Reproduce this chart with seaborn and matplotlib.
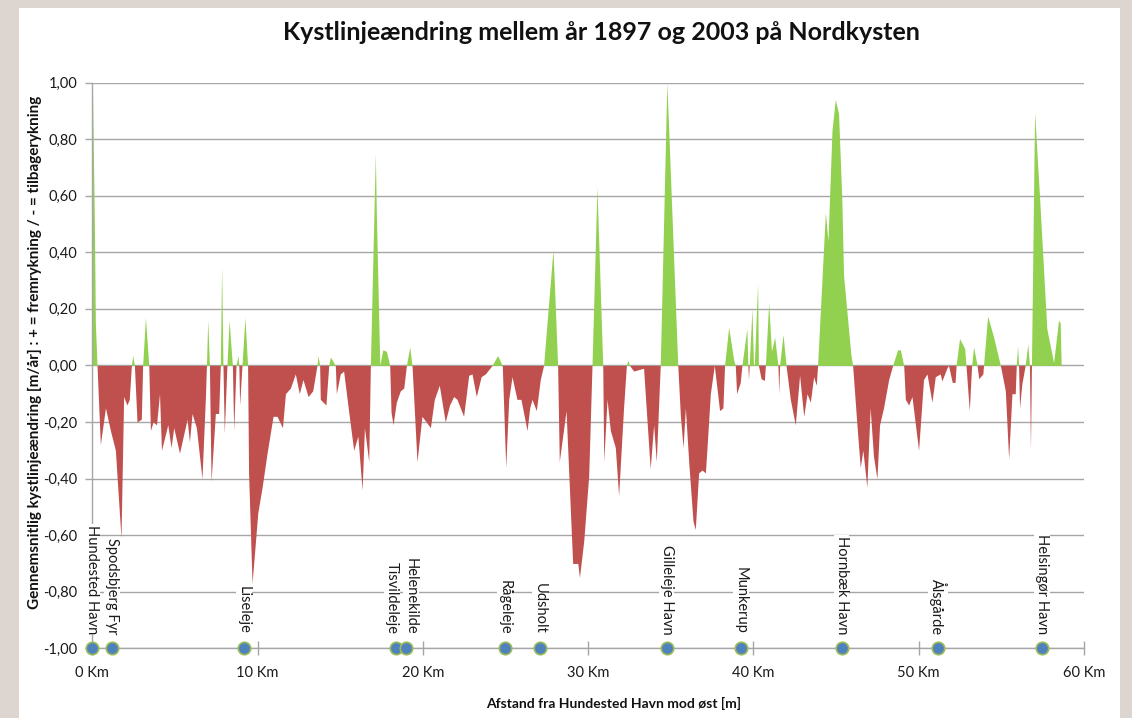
#!/usr/bin/env python3
"""
Kystlinjeændring langs Nordkysten (1897-2003) - area profile with named locations.
"""

import numpy as np
import matplotlib
matplotlib.use('Agg')
import matplotlib.pyplot as plt
from matplotlib.patches import Rectangle
from matplotlib.ticker import FuncFormatter
import seaborn as sns

# ---- data: distance from Hundested Havn [km] and mean change [m/år] ----
km = [
    0.00, 0.12, 0.18, 0.28, 0.48, 0.79, 1.09, 1.39, 1.73, 1.89,
    2.09, 2.23, 2.36, 2.44, 2.54, 2.70, 2.96, 3.04, 3.21, 3.41,
    3.51, 3.67, 3.88, 4.06, 4.18, 4.56, 4.76, 4.92, 5.27, 5.73,
    5.87, 6.03, 6.29, 6.63, 6.84, 6.90, 6.98, 7.08, 7.18, 7.44,
    7.64, 7.74, 7.82, 7.90, 7.98, 8.14, 8.27, 8.47, 8.55, 8.69,
    8.81, 8.86, 8.91, 9.05, 9.23, 9.39, 9.45, 9.66, 10.01, 10.27,
    10.57, 10.93, 11.17, 11.50, 11.68, 11.98, 12.28, 12.52, 12.74, 13.05,
    13.33, 13.59, 13.65, 13.75, 13.79, 14.13, 14.30, 14.40, 14.70, 14.76,
    15.00, 15.20, 15.50, 15.81, 16.06, 16.32, 16.46, 16.72, 16.82, 17.12,
    17.18, 17.39, 17.57, 17.79, 17.99, 18.07, 18.19, 18.39, 18.63, 18.84,
    19.00, 19.20, 19.34, 19.64, 19.94, 20.20, 20.45, 20.69, 20.99, 21.35,
    21.61, 21.86, 22.06, 22.46, 22.77, 22.97, 23.23, 23.52, 23.78, 24.18,
    24.52, 24.80, 25.01, 25.19, 25.39, 25.69, 25.93, 26.30, 26.46, 26.60,
    26.86, 27.10, 27.30, 27.87, 28.15, 28.25, 28.66, 29.06, 29.37, 29.47,
    29.73, 30.03, 30.23, 30.53, 30.88, 30.94, 31.14, 31.34, 31.64, 31.84,
    32.14, 32.31, 32.40, 32.50, 32.75, 33.35, 33.75, 33.96, 34.12, 34.36,
    34.76, 35.42, 35.58, 35.74, 35.88, 36.08, 36.34, 36.48, 36.68, 36.89,
    37.09, 37.19, 37.39, 37.63, 37.95, 38.15, 38.25, 38.50, 38.80, 38.90,
    38.98, 39.20, 39.30, 39.60, 39.66, 39.70, 39.74, 39.91, 40.00, 40.05,
    40.25, 40.30, 40.46, 40.66, 40.72, 40.92, 41.09, 41.28, 41.48, 41.53,
    41.58, 41.79, 41.97, 42.23, 42.53, 42.79, 43.04, 43.24, 43.44, 43.64,
    43.80, 43.88, 44.35, 44.51, 44.75, 44.95, 45.15, 45.35, 45.45, 45.89,
    46.00, 46.26, 46.46, 46.62, 46.86, 47.06, 47.26, 47.47, 47.63, 47.87,
    48.18, 48.42, 48.72, 48.89, 49.09, 49.19, 49.39, 49.59, 49.99, 50.29,
    50.50, 50.80, 51.00, 51.30, 51.40, 51.70, 51.80, 52.03, 52.20, 52.26,
    52.47, 52.78, 52.86, 53.06, 53.20, 53.32, 53.53, 53.63, 53.88, 53.92,
    54.17, 54.53, 54.94, 55.24, 55.44, 55.64, 55.84, 55.90, 55.98, 56.04,
    56.10, 56.24, 56.44, 56.60, 56.70, 56.76, 56.82, 57.01, 57.31, 57.75,
    58.16, 58.46, 58.56, 58.62,
]
change = [
    1.00, 0.50, 0.15, 0.00, -0.28, -0.15, -0.23, -0.30, -0.61, -0.11,
    -0.14, -0.12, 0.00, 0.035, 0.00, -0.20, -0.19, 0.00, 0.17, 0.00,
    -0.23, -0.20, -0.21, -0.10, -0.30, -0.21, -0.29, -0.22, -0.31, -0.19,
    -0.27, -0.17, -0.22, -0.40, -0.11, 0.00, 0.16, 0.00, -0.41, -0.17,
    -0.17, 0.00, 0.35, 0.00, -0.24, 0.00, 0.16, 0.00, -0.23, 0.00,
    0.035, 0.00, -0.14, 0.00, 0.17, 0.00, -0.38, -0.77, -0.52, -0.43,
    -0.31, -0.18, -0.18, -0.22, -0.10, -0.08, -0.03, -0.10, -0.05, -0.11,
    -0.09, 0.00, 0.035, 0.00, -0.12, -0.14, 0.00, 0.03, 0.00, -0.10,
    -0.03, -0.02, -0.16, -0.30, -0.25, -0.44, -0.22, -0.34, 0.00, 0.75,
    0.54, 0.00, 0.055, 0.05, 0.00, -0.165, -0.21, -0.13, -0.09, -0.08,
    0.00, 0.065, 0.00, -0.34, -0.18, -0.20, -0.22, -0.12, -0.07, -0.20,
    -0.14, -0.11, -0.12, -0.18, -0.035, -0.03, -0.11, -0.04, -0.03, 0.00,
    0.035, 0.00, -0.36, -0.12, -0.04, -0.12, -0.12, -0.23, -0.15, -0.12,
    -0.16, -0.05, 0.00, 0.41, 0.00, -0.34, -0.16, -0.70, -0.70, -0.75,
    -0.62, -0.39, 0.00, 0.63, 0.00, -0.34, -0.12, -0.23, -0.29, -0.46,
    -0.15, 0.00, 0.018, 0.00, -0.02, -0.01, -0.365, -0.21, -0.34, 0.00,
    1.00, 0.00, -0.18, -0.29, -0.15, -0.34, -0.55, -0.58, -0.38, -0.37,
    -0.38, -0.29, -0.10, 0.00, -0.16, -0.15, 0.00, 0.135, 0.02, 0.00,
    -0.10, -0.06, 0.00, 0.13, 0.00, -0.05, 0.00, 0.20, 0.005, 0.00,
    0.29, 0.00, -0.047, -0.053, 0.00, 0.22, 0.05, 0.10, 0.00, -0.10,
    0.00, 0.11, 0.00, -0.12, -0.21, -0.035, -0.18, -0.10, -0.13, -0.04,
    -0.07, 0.00, 0.54, 0.44, 0.83, 0.94, 0.89, 0.58, 0.32, 0.04,
    0.00, -0.21, -0.36, -0.30, -0.43, -0.15, -0.32, -0.40, -0.21, -0.15,
    -0.05, 0.00, 0.055, 0.055, 0.00, -0.12, -0.14, -0.11, -0.30, -0.05,
    -0.03, -0.13, -0.04, -0.03, -0.055, -0.01, 0.00, -0.06, -0.06, 0.00,
    0.095, 0.06, 0.00, -0.16, 0.00, 0.065, 0.00, -0.047, -0.03, 0.00,
    0.175, 0.10, 0.00, -0.09, -0.33, -0.10, -0.10, 0.00, 0.07, 0.00,
    -0.15, -0.065, 0.00, 0.076, 0.00, -0.30, 0.00, 0.895, 0.595, 0.13,
    0.01, 0.16, 0.15, 0.00,
]

# named places along the coast
places = ['Hundested Havn', 'Spodsbjerg Fyr', 'Liseleje', 'Tisvildeleje', 'Helenekilde',
          'Rågeleje', 'Udsholt', 'Gilleleje Havn', 'Munkerup', 'Hornbæk Havn',
          'Ålsgårde', 'Helsingør Havn']
place_km = [0.0, 1.17, 9.17, 18.37, 18.97, 24.96, 27.08, 34.74, 39.24, 45.33, 51.17, 57.47]
place_y = [-1.0] * len(place_km)

xticks = [0, 10, 20, 30, 40, 50, 60]
yticks = [-1.0, -0.8, -0.6, -0.4, -0.2, 0.0, 0.2, 0.4, 0.6, 0.8, 1.0]

GREEN = '#92d050'
RED = '#c0504d'
GRID = '#a6a6a6'

sns.set_theme(style='white')
plt.rcParams['font.family'] = ['Lato', 'DejaVu Sans']

fig = plt.figure(figsize=(11.32, 7.18), dpi=100)
fig.patch.set_facecolor('#ddd6d0')
fig.patches.append(Rectangle((19 / 1132, 0), (1120 - 19) / 1132, 1 - 8 / 718,
                             transform=fig.transFigure, facecolor='white',
                             edgecolor='none', zorder=-10))

ax = fig.add_axes([92.4 / 1132, (718 - 648.3) / 718, (1084 - 92.4) / 1132, (648.3 - 82.5) / 718])
ax.set_facecolor('none')

x = np.array(km)
y = np.array(change)
ax.fill_between(x, 0, np.clip(y, 0, None), color=GREEN, lw=0, zorder=2)
ax.fill_between(x, 0, np.clip(y, None, 0), color=RED, lw=0, zorder=2)

# location markers on the -1 line
sns.scatterplot(x=place_km, y=place_y, ax=ax, s=80, color='#4f81bd',
                edgecolor='#9bbb59', linewidth=1.2, clip_on=False, zorder=5, legend=False)

label_shift = {'Tisvildeleje': -4, 'Helenekilde': 5, 'Spodsbjerg Fyr': 0}
for name, xk in zip(places, place_km):
    ax.annotate(name, xy=(xk, -0.95), xytext=(label_shift.get(name, 0), 0),
                textcoords='offset pixels', rotation=270, ha='center', va='bottom',
                fontsize=10.5, color='#1a1a1a', zorder=4,
                bbox=dict(facecolor='white', edgecolor='none', pad=0.6))

ax.set_xlim(0, 60)
ax.set_ylim(-1, 1)
ax.set_xticks(xticks)
ax.set_yticks(yticks)
ax.xaxis.set_major_formatter(FuncFormatter(lambda v, p: f'{int(v)} Km'))
ax.yaxis.set_major_formatter(FuncFormatter(lambda v, p: f'{v:.2f}'.replace('.', ',')))

ax.grid(axis='y', color=GRID, lw=1.0, zorder=1)
ax.set_axisbelow(True)
for side in ['top', 'right']:
    ax.spines[side].set_visible(False)
ax.spines['left'].set_color(GRID)
ax.spines['bottom'].set_color(GRID)
ax.spines['left'].set_linewidth(1.0)
ax.spines['bottom'].set_linewidth(1.0)
ax.tick_params(axis='x', direction='inout', length=10, width=1, color=GRID,
               labelsize=10.5, pad=8, labelcolor='#1a1a1a', bottom=True)
ax.tick_params(axis='y', direction='out', length=5, width=1, color=GRID,
               labelsize=10.5, pad=6, labelcolor='#1a1a1a', left=True)

fig.text(601 / 1132, 1 - 33 / 718, 'Kystlinjeændring mellem år 1897 og 2003 på Nordkysten',
         ha='center', va='center', fontsize=18, fontweight='bold', color='#111111')
fig.text(614 / 1132, 1 - 703 / 718, 'Afstand fra Hundested Havn mod øst [m]',
         ha='center', va='center', fontsize=10, fontweight='bold', color='#111111')
fig.text(35 / 1132, 1 - 352 / 718,
         'Gennemsnitlig kystlinjeændring [m/år] : + = fremrykning / - = tilbagerykning',
         ha='center', va='center', rotation=90, fontsize=11, fontweight='bold', color='#111111')

plt.savefig('out.png', dpi=100, facecolor=fig.get_facecolor())
